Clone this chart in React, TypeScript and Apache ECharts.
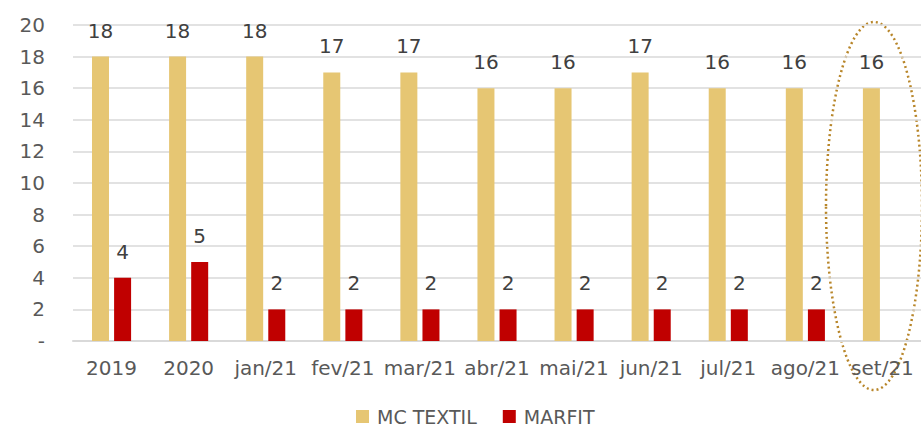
import React, { useEffect, useRef } from "react";
import * as echarts from "echarts";

const categories = ["2019", "2020", "jan/21", "fev/21", "mar/21", "abr/21", "mai/21", "jun/21", "jul/21", "ago/21", "set/21"];
const mcTextil = [18, 18, 18, 17, 17, 16, 16, 17, 16, 16, 16];
const marfit: (number | null)[] = [4, 5, 2, 2, 2, 2, 2, 2, 2, 2, null];

const FONT = "DejaVu Sans";

export default function App() {
  const ref = useRef<HTMLDivElement>(null);
  useEffect(() => {
    if (!ref.current) return;
    const chart = echarts.init(ref.current, undefined, { renderer: "svg" });
    chart.setOption({
      animation: false,
      textStyle: { fontFamily: FONT },
      grid: { left: 73, right: 0, top: 25, bottom: 87 },
      legend: {
        top: 407,
        left: 356,
        padding: 0,
        itemWidth: 13,
        itemHeight: 13,
        itemGap: 26,
        icon: "rect",
        textStyle: { fontSize: 19, lineHeight: 19, color: "#595959", fontFamily: FONT, padding: [0, 0, 0, 3] },
        data: ["MC TEXTIL", "MARFIT"],
      },
      xAxis: {
        type: "category",
        data: categories,
        axisTick: { show: false },
        axisLine: { lineStyle: { color: "#d9d9d9", width: 2 } },
        axisLabel: { fontSize: 20, color: "#595959", margin: 17, interval: 0 },
      },
      yAxis: {
        type: "value",
        min: 0,
        max: 20,
        interval: 2,
        axisLine: { show: false },
        axisTick: { show: false },
        splitLine: { lineStyle: { color: "#d9d9d9", width: 1.5 } },
        axisLabel: {
          fontSize: 20,
          color: "#595959",
          margin: 28,
          formatter: (v: number) => (v === 0 ? "-" : String(v)),
        },
      },
      series: [
        {
          name: "MC TEXTIL",
          type: "bar",
          data: mcTextil,
          barWidth: 17,
          barGap: "30%",
          itemStyle: { color: "#e6c673" },
          label: { show: true, position: "top", distance: 16, fontSize: 20, color: "#404040" },
        },
        {
          name: "MARFIT",
          type: "bar",
          data: marfit,
          barWidth: 17,
          itemStyle: { color: "#c00000" },
          label: { show: true, position: "top", distance: 16, fontSize: 20, color: "#404040" },
        },
      ],
      graphic: [
        {
          type: "ellipse",
          shape: { cx: 874, cy: 206, rx: 48, ry: 184 },
          style: { fill: "none", stroke: "#b8862a", lineWidth: 2.5, lineDash: [2, 3] },
          silent: true,
        },
      ],
    });
    return () => chart.dispose();
  }, []);
  return <div ref={ref} style={{ position: "absolute", left: 0, top: 0, width: 921, height: 428 }} />;
}
